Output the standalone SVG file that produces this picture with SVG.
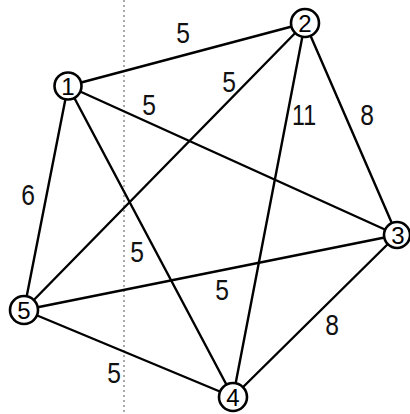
<svg xmlns="http://www.w3.org/2000/svg" width="410" height="414" viewBox="0 0 410 414">
<style>
.e{stroke:#000;stroke-width:2.4;fill:none;stroke-linecap:round}
.n circle{fill:#fff;stroke:#000;stroke-width:2.6}
.n text{font-family:"Liberation Sans",Arial,sans-serif;font-size:24px;text-anchor:middle;fill:#000}
.w{font-family:"Liberation Sans",Arial,sans-serif;font-size:29px;text-anchor:middle;fill:#111}
</style>
<rect width="410" height="414" fill="#fff"/>
<line x1="124" y1="0" x2="124" y2="414" stroke="#555" stroke-width="1" stroke-dasharray="2,3"/>
<g id="connectors">
<line class="e" x1="68" y1="86" x2="305" y2="23"/>
<line class="e" x1="68" y1="86" x2="397" y2="235"/>
<line class="e" x1="68" y1="86" x2="233" y2="397"/>
<line class="e" x1="68" y1="86" x2="24" y2="310"/>
<line class="e" x1="305" y1="23" x2="24" y2="310"/>
<line class="e" x1="305" y1="23" x2="233" y2="397"/>
<line class="e" x1="305" y1="23" x2="397" y2="235"/>
<line class="e" x1="397" y1="235" x2="24" y2="310"/>
<line class="e" x1="397" y1="235" x2="233" y2="397"/>
<line class="e" x1="24" y1="310" x2="233" y2="397"/>
</g>
<g id="labels">
<text class="w" transform="translate(183,43) scale(0.85,1)">5</text>
<text class="w" transform="translate(229,92) scale(0.85,1)">5</text>
<text class="w" transform="translate(149,115) scale(0.85,1)">5</text>
<text class="w" transform="translate(304,125) scale(0.8,1)">11</text>
<text class="w" transform="translate(367,125) scale(0.85,1)">8</text>
<text class="w" transform="translate(28,205) scale(0.85,1)">6</text>
<text class="w" transform="translate(137,262) scale(0.85,1)">5</text>
<text class="w" transform="translate(222,300) scale(0.85,1)">5</text>
<text class="w" transform="translate(332,335) scale(0.85,1)">8</text>
<text class="w" transform="translate(114,383) scale(0.85,1)">5</text>
</g>
<g id="node1" class="n"><circle cx="68" cy="86" r="13.5"/><text x="68" y="95">1</text></g>
<g id="node2" class="n"><circle cx="305" cy="23" r="14"/><text x="305" y="32">2</text></g>
<g id="node3" class="n"><circle cx="397" cy="235" r="13"/><text x="398" y="244">3</text></g>
<g id="node4" class="n"><circle cx="233" cy="397" r="14"/><text x="233" y="406">4</text></g>
<g id="node5" class="n"><circle cx="24" cy="310" r="14"/><text x="24" y="319">5</text></g>
</svg>
